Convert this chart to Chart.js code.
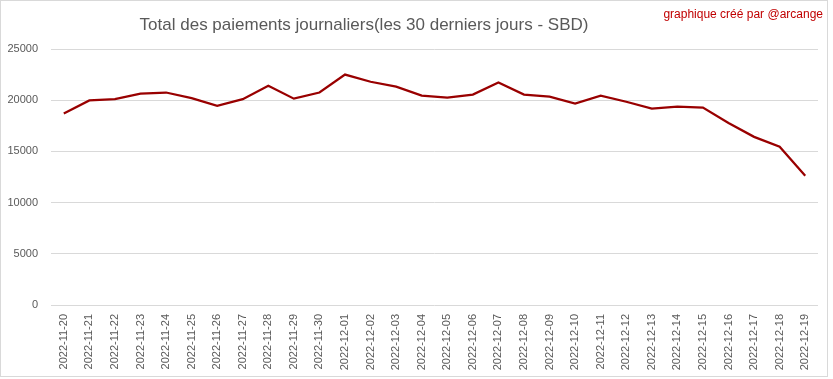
<!DOCTYPE html>
<html>
<head>
<meta charset="utf-8">
<script src="https://cdn.jsdelivr.net/npm/chart.js@4/dist/chart.umd.min.js"></script>
<style>
html,body{margin:0;padding:0;background:#fff;}
#wrap{width:833px;height:379px;position:relative;}
</style>
</head>
<body>
<div id="wrap"><canvas id="c" width="833" height="379"></canvas></div>
<script>
const TITLE = "Total des paiements journaliers(les 30 derniers jours - SBD)";
const CREDIT = "graphique créé par @arcange";
const categories = ["2022-11-20","2022-11-21","2022-11-22","2022-11-23","2022-11-24","2022-11-25","2022-11-26","2022-11-27","2022-11-28","2022-11-29","2022-11-30","2022-12-01","2022-12-02","2022-12-03","2022-12-04","2022-12-05","2022-12-06","2022-12-07","2022-12-08","2022-12-09","2022-12-10","2022-12-11","2022-12-12","2022-12-13","2022-12-14","2022-12-15","2022-12-16","2022-12-17","2022-12-18","2022-12-19"];
const payments = [18700,19980,20100,20650,20750,20200,19450,20100,21420,20150,20750,22500,21800,21330,20450,20250,20550,21720,20550,20350,19680,20450,19850,19180,19370,19280,17780,16420,15450,12620];
const yTicks = [0,5000,10000,15000,20000,25000];

const decor = {
  id: 'decor',
  beforeDraw(chart){
    const ctx = chart.ctx;
    ctx.save();
    ctx.fillStyle = '#ffffff';
    ctx.fillRect(0,0,chart.width,chart.height);
    ctx.strokeStyle = '#d9d9d9';
    ctx.lineWidth = 1;
    ctx.strokeRect(0.5,0.5,827,376);
    ctx.restore();
  },
  afterDraw(chart){
    const ctx = chart.ctx;
    ctx.save();
    ctx.fillStyle = '#595959';
    ctx.font = '17px "Liberation Sans", Arial, sans-serif';
    ctx.textAlign = 'center';
    ctx.textBaseline = 'alphabetic';
    ctx.fillText(TITLE, 364, 30);
    ctx.fillStyle = '#c00000';
    ctx.font = '12px "Liberation Sans", Arial, sans-serif';
    ctx.textAlign = 'right';
    ctx.fillText(CREDIT, 823, 18);
    ctx.restore();
  }
};

new Chart(document.getElementById('c'), {
  type: 'line',
  data: {
    labels: categories,
    datasets: [{
      data: payments,
      borderColor: '#990000',
      borderWidth: 2.25,
      pointRadius: 0,
      tension: 0,
      fill: false
    }]
  },
  options: {
    responsive: false,
    animation: false,
    layout: { padding: { top: 49, right: 15, left: 0, bottom: 0 } },
    plugins: { legend: { display: false }, tooltip: { enabled: false } },
    scales: {
      x: {
        offset: true,
        grid: { display: false, drawTicks: false },
        border: { display: false },
        ticks: {
          color: '#595959',
          font: { family: '"Liberation Sans", Arial, sans-serif', size: 11 },
          minRotation: 90, maxRotation: 90,
          autoSkip: false,
          padding: 9
        },
        afterFit(scale){ scale.height = 379 - 305; }
      },
      y: {
        min: 0, max: 25000,
        afterBuildTicks(scale){ scale.ticks = yTicks.map(v => ({value: v})); },
        grid: { color: '#d9d9d9', drawTicks: false, lineWidth: 1 },
        border: { display: false },
        ticks: {
          color: '#595959',
          font: { family: '"Liberation Sans", Arial, sans-serif', size: 11 },
          padding: 13,
          callback: (v) => String(v)
        },
        afterFit(scale){ scale.width = 51; }
      }
    }
  },
  plugins: [decor]
});
</script>
</body>
</html>
